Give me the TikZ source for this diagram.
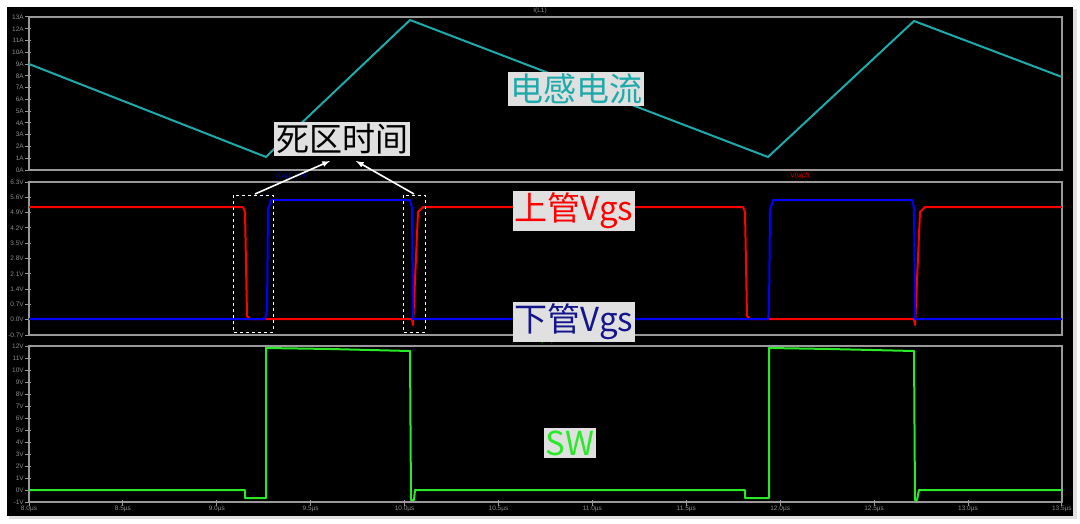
\documentclass[tikz,border=0pt]{standalone}
\usepackage{fontspec}
\setmainfont{Liberation Sans}
\newfontfamily\cjk{Noto Sans CJK SC}
\begin{document}
\begin{tikzpicture}[x=1pt,y=-1pt,
  frame/.style={draw=black!40,line width=1.4pt},
  tick/.style={font=\fontsize{6.5}{7}\selectfont,text=black!45,inner sep=1pt},
  lbl/.style={fill=black!12,inner sep=2pt,font=\cjk\fontsize{33}{36}\selectfont},
  trace/.style={line width=2pt,line join=round},
  dbox/.style={draw=white,dashed,line width=0.9pt},
  arr/.style={draw=white,line width=1.6pt,-latex}]
\useasboundingbox (0,0) rectangle (1080,523);
\fill[white] (0,0) rectangle (1080,523);
\fill[black!12] (9,9) rectangle (1077,519);
\fill[black] (7,7) rectangle (1073,516);
% panels
\draw[frame] (29,17) rectangle (1062,170);
\draw[frame] (29,182) rectangle (1062,335);
\draw[frame] (29,346) rectangle (1062,502);
% y ticks
\foreach \i in {0,...,13}{
  \draw[black!40,line width=1pt] (25,{170-\i*11.77}) -- (31,{170-\i*11.77});
  \node[tick,anchor=east] at (25,{170-\i*11.77}) {\i A};}
\foreach \i/\t in {0/-0.7V,1/0.0V,2/0.7V,3/1.4V,4/2.1V,5/2.8V,6/3.5V,7/4.2V,8/4.9V,9/5.6V,10/6.3V}{
  \draw[black!40,line width=1pt] (25,{335-\i*15.3}) -- (31,{335-\i*15.3});
  \node[tick,anchor=east] at (25,{335-\i*15.3}) {\t};}
\foreach \i in {0,...,13}{
  \pgfmathtruncatemacro\v{\i-1}
  \draw[black!40,line width=1pt] (25,{502-\i*12}) -- (31,{502-\i*12});
  \node[tick,anchor=east] at (25,{502-\i*12}) {\v V};}
\foreach \i/\t in {0/8.0,1/8.5,2/9.0,3/9.5,4/10.0,5/10.5,6/11.0,7/11.5,8/12.0,9/12.5,10/13.0,11/13.5}{
  \draw[black!40,line width=1pt] ({29+\i*93.9},500) -- ({29+\i*93.9},506);
  \node[tick,anchor=north] at ({29+\i*93.9},505) {\t µs};}
% trace names
\node[tick] (nI) at (540,11) {I(L1)};
\node[tick,text=blue!80!black] (nV1) at (290,176) {V(vg1\_sw)};
\node[tick,text=red!85!black] (nV2) at (800,176) {V(vg2)};
\node[tick,text=green!70!black] (nSW) at (545,341) {V(sw)};
% inductor current
\draw[trace,color={rgb,255:red,30;green,170;blue,170}]
  (29,64) -- (266,157) -- (272,151) -- (410,20) -- (768,157) -- (914,21) -- (1062,77);
% gate signals
\draw[trace,red] (29,207) -- (243,207) -- (245,212) -- (247,316) -- (250,319) -- (412,319)
  -- (413,325) -- (415,280) -- (418,212) -- (423,207) -- (743,207) -- (745,212) -- (747,316)
  -- (750,319) -- (914,319) -- (915,325) -- (917,280) -- (920,212) -- (925,207) -- (1062,207);
\draw[trace,blue] (29,319) -- (265,319) -- (267,310) -- (268,210) -- (271,200) -- (410,200)
  -- (412,208) -- (413,319) -- (768,319) -- (769,310) -- (770,210) -- (773,200) -- (912,200)
  -- (914,208) -- (915,319) -- (1062,319);
% switch node
\draw[trace,color={rgb,255:red,40;green,235;blue,40}] (29,490) -- (245,490) -- (245,498) -- (266,498)
  -- (266,348) -- (330,349) -- (410,351) -- (411,500) -- (414,500) -- (415,490) -- (745,490)
  -- (745,498) -- (769,498) -- (769,348) -- (830,349) -- (914,351) -- (915,500) -- (917,500)
  -- (919,490) -- (1062,490);
% dead-time boxes
\draw[dbox] (233,195) rectangle (273,332);
\draw[dbox] (403,195) rectangle (425,332);
\coordinate (d1) at (255,194);
\coordinate (d2) at (414,194);
% labels
\node[lbl,text={rgb,255:red,30;green,170;blue,170}] (L1) at (576,89) {电感电流};
\node[lbl,text=black] (dead) at (342,139) {死区时间};
\node[lbl,text=red] (hi) at (574,211) {上管Vgs};
\node[lbl,text={rgb,255:red,20;green,20;blue,140}] (lo) at (574,322) {下管Vgs};
\node[lbl,text={rgb,255:red,40;green,235;blue,40}] (sw) at (570,443) {SW};
\draw[arr] (d1) -- (330,161);
\draw[arr] (d2) -- (356,161);
\end{tikzpicture}
\end{document}
